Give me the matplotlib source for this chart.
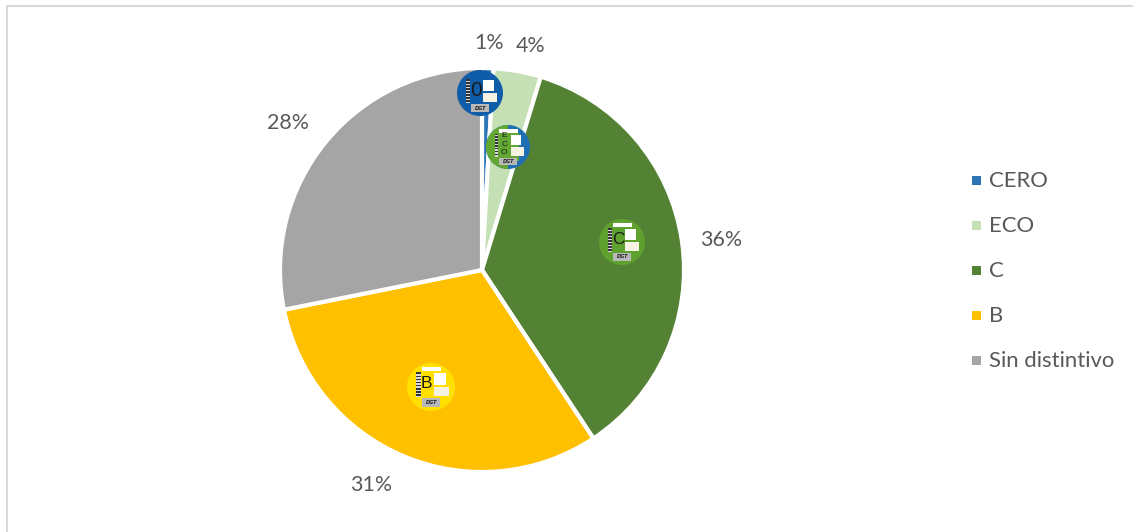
import matplotlib
matplotlib.use('Agg')
import matplotlib.pyplot as plt
from matplotlib.patches import Circle, Rectangle, Wedge

plt.rcParams['font.family'] = ['Lato', 'DejaVu Sans']

categories = ['CERO', 'ECO', 'C', 'B', 'Sin distintivo']
values = [0.9, 3.8, 36.0, 31.15, 28.15]
pct_labels = ['1%', '4%', '36%', '31%', '28%']
colors = ['#2E75B6', '#C5E0B4', '#548235', '#FFC000', '#A5A5A5']

W, H = 1133, 532
TEXT = '#595959'

fig = plt.figure(figsize=(W / 100, H / 100), dpi=100)
ax = fig.add_axes([0, 0, 1, 1])

# con el eje y invertido el sentido se invierte, por eso counterclock=True
ax.pie(values, colors=colors, startangle=-90, counterclock=True, center=(482, 270), radius=202,
       frame=True, wedgeprops={'edgecolor': 'white', 'linewidth': 3})
ax.set_xlim(0, W)
ax.set_ylim(H, 0)
ax.set_aspect('equal')
ax.axis('off')

# marco del grafico (sin linea inferior ni derecha)
ax.plot([6.5, 6.5, W], [H, 5.5, 5.5], color='#D9D9D9', lw=1.5)

label_pos = [(489, 43), (531, 46), (721, 240), (371, 485), (288, 123)]
for (x, y), txt in zip(label_pos, pct_labels):
    ax.text(x, y, txt, fontsize=15.4, color=TEXT, ha='center', va='center')


def badge(cx, cy, r, ring, letter, fs, inner=None, top=True):
    # pegatina de la DGT
    ax.add_patch(Circle((cx, cy), r, fc=ring, ec='none', zorder=3))
    s = r / 23
    if inner is not None:
        ax.add_patch(Wedge((cx, cy), r, 90, 270, fc=inner, ec='none', zorder=3))
        ax.add_patch(Rectangle((cx - 9 * s, cy - 15 * s), 20 * s, 30 * s, fc=inner, ec='none', zorder=3))
    if top:
        ax.add_patch(Rectangle((cx - 9 * s, cy - 19 * s), 19 * s, 4 * s, fc='white', ec='none', zorder=4))
    # codigo de barras
    ax.add_patch(Rectangle((cx - 14 * s, cy - 14 * s), 4 * s, 24 * s, fc='#D8D8D8', ec='none', zorder=4))
    for k in range(8):
        ax.add_patch(Rectangle((cx - 14 * s, cy + (-14 + k * 3) * s), 4 * s, 1.5 * s, fc='#333333', ec='none', zorder=4))
    ax.add_patch(Rectangle((cx + 3 * s, cy - 13 * s), 11 * s, 11 * s, fc='white', ec='none', zorder=4))
    ax.add_patch(Rectangle((cx + 3 * s, cy + 0 * s), 14 * s, 9 * s, fc='#F5F1E3', ec='none', zorder=4))
    ax.add_patch(Rectangle((cx - 9 * s, cy + 11 * s), 18 * s, 8 * s, fc='#B8B8B8', ec='none', zorder=4))
    ax.text(cx + 1 * s, cy + 15 * s, 'DGT', fontsize=3.6, style='italic', weight='bold', color='#222222',
            ha='center', va='center', family='DejaVu Sans', zorder=5)
    n = len(letter)
    for i, ch in enumerate(letter):
        ax.text(cx - 4 * s, cy + (-3 + (i - (n - 1) / 2) * 9) * s, ch, fontsize=fs, color='#1a1a1a',
                ha='center', va='center', family='Liberation Sans', zorder=5)


badge(480, 93, 23, '#0F5DA8', '0', 15, top=False)
badge(508, 147, 22, '#1F6FB5', 'ECO', 6, inner='#62A832')
badge(622, 242, 23, '#5FA12F', 'C', 12.5)
badge(431, 387, 24, '#FFE000', 'B', 12.5)

# leyenda
legend_y = [180, 225, 270, 315, 360]
for y, name, c in zip(legend_y, categories, colors):
    ax.add_patch(Rectangle((972, y - 4.5), 9, 9, fc=c, ec='none'))
    ax.text(989, y + 7, name, fontsize=15.9, color=TEXT, ha='left', va='baseline')

fig.savefig('out.png', dpi=100)
